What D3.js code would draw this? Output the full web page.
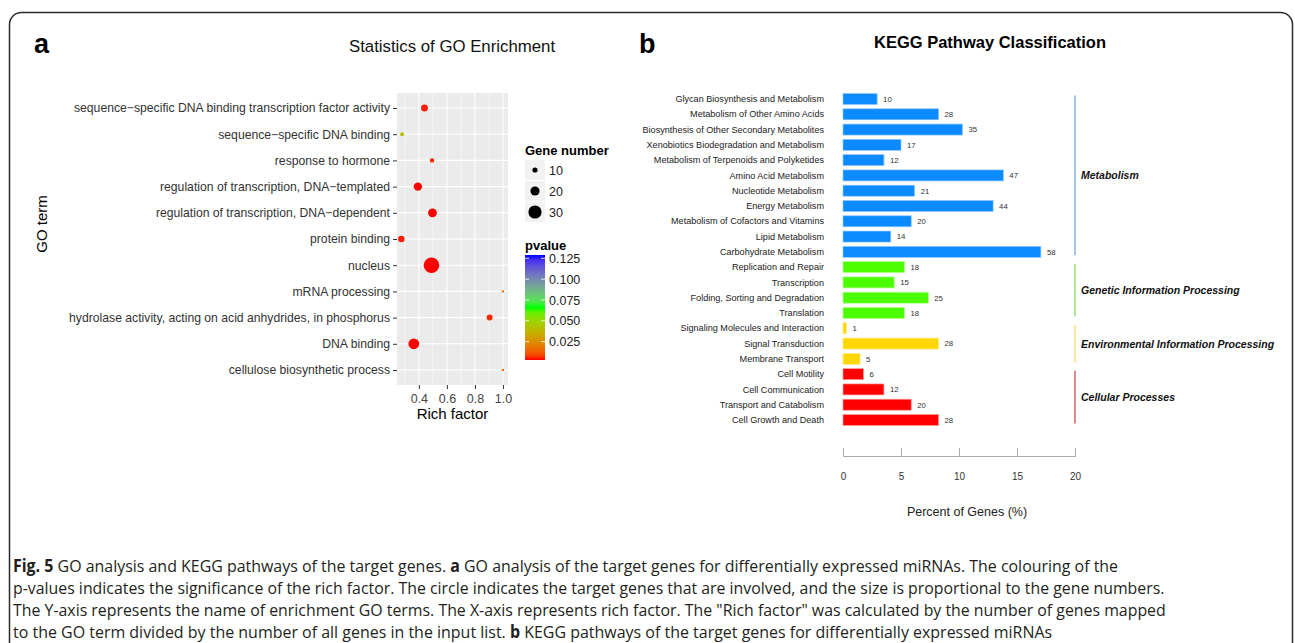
<!DOCTYPE html>
<html>
<head>
<meta charset="utf-8">
<script src="https://cdn.jsdelivr.net/npm/d3@7"></script>
<style>
  body { margin: 0; background: #fff; }
  svg { display: block; font-family: "Liberation Sans", Arial, Helvetica, sans-serif; }
</style>
</head>
<body>
<svg id="fig" width="1295" height="643"></svg>
<script>
// ---- painel a: enriquecimento GO ----
const goTerms = [
  "sequence\u2212specific DNA binding transcription factor activity",
  "sequence\u2212specific DNA binding",
  "response to hormone",
  "regulation of transcription, DNA\u2212templated",
  "regulation of transcription, DNA\u2212dependent",
  "protein binding",
  "nucleus",
  "mRNA processing",
  "hydrolase activity, acting on acid anhydrides, in phosphorus",
  "DNA binding",
  "cellulose biosynthetic process"
];
const goRich   = [0.44, 0.28, 0.494, 0.393, 0.497, 0.275, 0.49, 1.0, 0.905, 0.364, 1.0];
const goGenes  = [14, 7, 8, 18, 19, 13, 36, 3, 12, 24, 3];
const goPvalue = [0.004, 0.042, 0.005, 0.003, 0.003, 0.004, 0.003, 0.017, 0.005, 0.003, 0.017];
const richTicks = [0.4, 0.6, 0.8, 1.0];
const richMinor = [0.3, 0.5, 0.7, 0.9];
const sizeBreaks = [10, 20, 30];
const pvalueBreaks = [0.025, 0.05, 0.075, 0.1, 0.125];

// ---- painel b: classificação KEGG ----
const keggNames = [
  "Glycan Biosynthesis and Metabolism",
  "Metabolism of Other Amino Acids",
  "Biosynthesis of Other Secondary Metabolites",
  "Xenobiotics Biodegradation and Metabolism",
  "Metabolism of Terpenoids and Polyketides",
  "Amino Acid Metabolism",
  "Nucleotide Metabolism",
  "Energy Metabolism",
  "Metabolism of Cofactors and Vitamins",
  "Lipid Metabolism",
  "Carbohydrate Metabolism",
  "Replication and Repair",
  "Transcription",
  "Folding, Sorting and Degradation",
  "Translation",
  "Signaling Molecules and Interaction",
  "Signal Transduction",
  "Membrane Transport",
  "Cell Motility",
  "Cell Communication",
  "Transport and Catabolism",
  "Cell Growth and Death"
];
const keggCounts = [10, 28, 35, 17, 12, 47, 21, 44, 20, 14, 58, 18, 15, 25, 18, 1, 28, 5, 6, 12, 20, 28];
const keggGroupOf = [0,0,0,0,0,0,0,0,0,0,0, 1,1,1,1, 2,2,2, 3,3,3,3];
const keggGroups = ["Metabolism", "Genetic Information Processing",
                    "Environmental Information Processing", "Cellular Processes"];
const keggTotal = 340; // total de genes anotados (percentual = contagem / total)
const percentTicks = [0, 5, 10, 15, 20];

const captionLines = [
  [["Fig. 5", true], [" GO analysis and KEGG pathways of the target genes. ", false], ["a", true],
   [" GO analysis of the target genes for differentially expressed miRNAs. The colouring of the", false]],
  [["p-values indicates the significance of the rich factor. The circle indicates the target genes that are involved, and the size is proportional to the gene numbers.", false]],
  [["The Y-axis represents the name of enrichment GO terms. The X-axis represents rich factor. The \"Rich factor\" was calculated by the number of genes mapped", false]],
  [["to the GO term divided by the number of all genes in the input list. ", false], ["b", true],
   [" KEGG pathways of the target genes for differentially expressed miRNAs", false]]
];

const svg = d3.select("#fig");

// moldura arredondada
svg.append("rect")
  .attr("x", 9.5).attr("y", 12.5).attr("width", 1283).attr("height", 660)
  .attr("rx", 12).attr("fill", "none").attr("stroke", "#2b2b2b").attr("stroke-width", 1.5);

// letras dos painéis
svg.append("text").attr("x", 34).attr("y", 53).attr("font-size", 27).attr("font-weight", "bold").text("a");
svg.append("text").attr("x", 639).attr("y", 53).attr("font-size", 27).attr("font-weight", "bold").text("b");

// ================= painel a =================
const pa = { left: 397, right: 508, top: 93, bottom: 385 };
svg.append("text").attr("x", 452).attr("y", 52).attr("text-anchor", "middle")
  .attr("font-size", 16.8).attr("fill", "#111").text("Statistics of GO Enrichment");

const xRich = d3.scaleLinear().domain([0.244, 1.036]).range([pa.left, pa.right]);
const yGo = d3.scalePoint().domain(goTerms).range([108, 370]);
const rGene = d3.scaleLinear().domain([10, 30]).range([2.6, 6.6]);
const colP = d3.scaleLinear().domain([0.003, 0.066, 0.129])
  .range(["#ff0000", "#00ff00", "#0000ff"]).interpolate(d3.interpolateLab);

svg.append("rect").attr("x", pa.left).attr("y", pa.top)
  .attr("width", pa.right - pa.left).attr("height", pa.bottom - pa.top).attr("fill", "#ebebeb");

// grade
svg.selectAll(".gminor").data(richMinor).enter().append("line")
  .attr("x1", d => xRich(d)).attr("x2", d => xRich(d))
  .attr("y1", pa.top).attr("y2", pa.bottom).attr("stroke", "#fff").attr("stroke-width", 0.5);
svg.selectAll(".gmajor").data(richTicks).enter().append("line")
  .attr("x1", d => xRich(d)).attr("x2", d => xRich(d))
  .attr("y1", pa.top).attr("y2", pa.bottom).attr("stroke", "#fff").attr("stroke-width", 1.1);
svg.selectAll(".grow").data(goTerms).enter().append("line")
  .attr("x1", pa.left).attr("x2", pa.right)
  .attr("y1", d => yGo(d)).attr("y2", d => yGo(d)).attr("stroke", "#fff").attr("stroke-width", 1.1);

// eixos
const yAxisA = svg.append("g").attr("transform", `translate(${pa.left},0)`)
  .call(d3.axisLeft(yGo).tickSize(4).tickPadding(3));
yAxisA.select(".domain").remove();
yAxisA.selectAll("line").attr("stroke", "#333");
yAxisA.selectAll("text").attr("font-size", 12.2).attr("fill", "#333").attr("font-family", null);

const xAxisA = svg.append("g").attr("transform", `translate(0,${pa.bottom})`)
  .call(d3.axisBottom(xRich).tickValues(richTicks).tickFormat(d3.format(".1f")).tickSize(4).tickPadding(5));
xAxisA.select(".domain").remove();
xAxisA.selectAll("line").attr("stroke", "#333");
xAxisA.selectAll("text").attr("font-size", 12.5).attr("fill", "#444").attr("font-family", null);

svg.append("text").attr("x", (pa.left + pa.right) / 2).attr("y", 419).attr("text-anchor", "middle")
  .attr("font-size", 15).text("Rich factor");
svg.append("text").attr("transform", "translate(47,224) rotate(-90)").attr("text-anchor", "middle")
  .attr("font-size", 15).text("GO term");

// pontos
svg.selectAll(".dot").data(goTerms).enter().append("circle")
  .attr("cx", (d, i) => xRich(goRich[i]))
  .attr("cy", d => yGo(d))
  .attr("r", (d, i) => rGene(goGenes[i]))
  .attr("fill", (d, i) => colP(goPvalue[i]));

// legenda de tamanho
svg.append("text").attr("x", 525).attr("y", 155).attr("font-size", 13).attr("font-weight", "bold").text("Gene number");
const sizeKey = svg.selectAll(".skey").data(sizeBreaks).enter().append("g")
  .attr("transform", (d, i) => `translate(525,${160 + i * 21})`);
sizeKey.append("rect").attr("width", 20).attr("height", 20).attr("fill", "#f2f2f2");
sizeKey.append("circle").attr("cx", 10).attr("cy", 10).attr("r", d => rGene(d)).attr("fill", "#000");
sizeKey.append("text").attr("x", 24).attr("y", 14.5).attr("font-size", 12.5).attr("fill", "#222").text(d => d);

// legenda de cor (pvalue)
svg.append("text").attr("x", 525).attr("y", 250).attr("font-size", 13).attr("font-weight", "bold").text("pvalue");
const yBar = d3.scaleLinear().domain([0.003, 0.129]).range([360, 255]);
const grad = svg.append("defs").append("linearGradient").attr("id", "pgrad")
  .attr("x1", 0).attr("y1", 1).attr("x2", 0).attr("y2", 0);
d3.range(0, 1.0001, 0.05).forEach(t => {
  grad.append("stop").attr("offset", t).attr("stop-color", colP(0.003 + t * 0.126));
});
svg.append("rect").attr("x", 525).attr("y", yBar(0.129)).attr("width", 20)
  .attr("height", yBar(0.003) - yBar(0.129)).attr("fill", "url(#pgrad)");
const pTick = svg.selectAll(".ptick").data(pvalueBreaks).enter().append("g")
  .attr("transform", d => `translate(525,${yBar(d)})`);
pTick.append("line").attr("x1", 0).attr("x2", 4).attr("stroke", "#fff").attr("stroke-width", 0.8);
pTick.append("line").attr("x1", 16).attr("x2", 20).attr("stroke", "#fff").attr("stroke-width", 0.8);
pTick.append("text").attr("x", 24).attr("y", 4.5).attr("font-size", 12.5).attr("fill", "#222")
  .text(d => d3.format(".3f")(d));

// ================= painel b =================
svg.append("text").attr("x", 990).attr("y", 48).attr("text-anchor", "middle")
  .attr("font-size", 16.5).attr("font-weight", "bold").text("KEGG Pathway Classification");

const groupFill = ["#0b8bff", "#4cff00", "#ffd700", "#ff0000"];
const groupEdge = ["#8fc6ff", "#b4ff99", "#ffeb8a", "#ff9a9a"];
const groupLine = ["#86b3e6", "#93e07e", "#f4e27f", "#cf6464"];

const xPct = d3.scaleLinear().domain([0, 20]).range([843, 1075]);
const yKegg = d3.scalePoint().domain(keggNames).range([99, 420]);
const barH = 11;

svg.selectAll(".bar").data(keggNames).enter().append("rect")
  .attr("x", xPct(0))
  .attr("y", d => yKegg(d) - barH / 2)
  .attr("width", (d, i) => xPct(keggCounts[i] / keggTotal * 100) - xPct(0))
  .attr("height", barH)
  .attr("fill", (d, i) => groupFill[keggGroupOf[i]])
  .attr("stroke", (d, i) => groupEdge[keggGroupOf[i]]).attr("stroke-width", 0.7);

svg.selectAll(".cnt").data(keggNames).enter().append("text")
  .attr("x", (d, i) => xPct(keggCounts[i] / keggTotal * 100) + 6)
  .attr("y", d => yKegg(d) + 2.8)
  .attr("font-size", 7.8).attr("fill", "#333")
  .text((d, i) => keggCounts[i]);

svg.selectAll(".kname").data(keggNames).enter().append("text")
  .attr("x", 824).attr("y", d => yKegg(d) + 3.2)
  .attr("text-anchor", "end").attr("font-size", 9.1).attr("fill", "#222")
  .text(d => d);

// linhas e rótulos dos grupos
keggGroups.forEach((g, gi) => {
  const rows = keggNames.filter((d, i) => keggGroupOf[i] === gi);
  const y0 = yKegg(rows[0]), y1 = yKegg(rows[rows.length - 1]);
  svg.append("line").attr("x1", 1075).attr("x2", 1075).attr("y1", y0 - 3.5).attr("y2", y1 + 3.5)
    .attr("stroke", groupLine[gi]).attr("stroke-width", 1.5);
  svg.append("text").attr("x", 1081).attr("y", (y0 + y1) / 2 + 4)
    .attr("font-size", 10.5).attr("font-weight", "bold").attr("font-style", "italic").attr("fill", "#111")
    .text(g);
});

// eixo x (percentual)
const xAxisB = svg.append("g").attr("transform", "translate(0,456)")
  .call(d3.axisBottom(xPct).tickValues(percentTicks).tickSize(-8).tickSizeOuter(-8).tickPadding(17));
xAxisB.select(".domain").attr("stroke", "#aaa");
xAxisB.selectAll("line").attr("stroke", "#aaa");
xAxisB.selectAll("text").attr("font-size", 10).attr("fill", "#333").attr("font-family", null);

svg.append("text").attr("x", 967).attr("y", 516).attr("text-anchor", "middle")
  .attr("font-size", 12.5).attr("fill", "#222").text("Percent of Genes (%)");

// ================= legenda (texto) =================
const capWidths = [1106, 1152, 1154, 1040];
captionLines.forEach((parts, li) => {
  const t = svg.append("text").attr("x", 0).attr("y", 0)
    .attr("font-family", "'Open Sans', 'Noto Sans', sans-serif").attr("font-size", 17).attr("fill", "#231f20");
  parts.forEach(p => {
    t.append("tspan").attr("font-weight", p[1] ? "bold" : "normal").text(p[0]);
  });
  const w = t.node().getComputedTextLength();
  t.attr("transform", `translate(13,${572 + li * 22}) scale(${capWidths[li] / w},1)`);
});
</script>
</body>
</html>
